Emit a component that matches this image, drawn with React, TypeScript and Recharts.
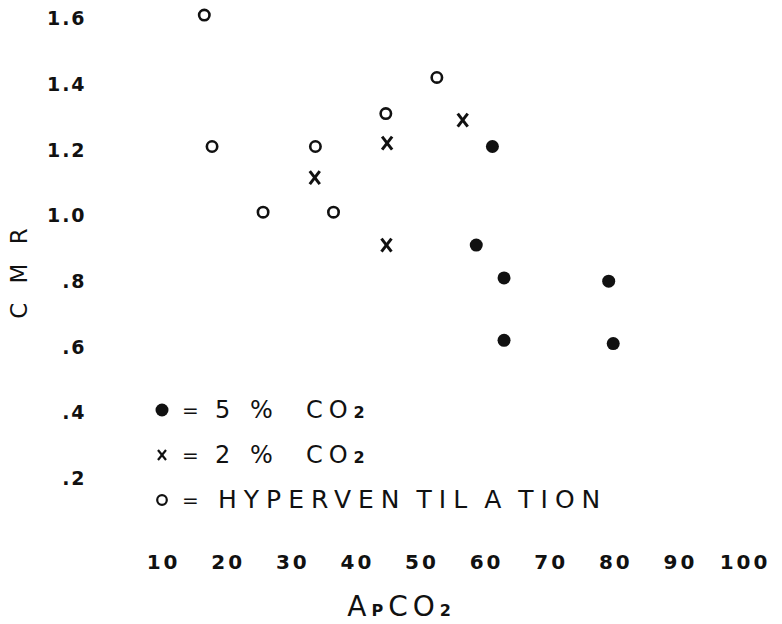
import React from 'react';
import { ScatterChart, Scatter, XAxis, YAxis, Label } from 'recharts';

// ---- data ----
const hyperX = [16.3, 17.5, 25.4, 33.5, 36.3, 44.4, 52.3];
const hyperY = [1.61, 1.21, 1.01, 1.21, 1.01, 1.31, 1.42];

const co2LowX = [33.4, 44.6, 44.5, 56.3];
const co2LowY = [1.115, 1.22, 0.91, 1.29];

const co2HighX = [60.9, 58.4, 62.7, 78.9, 62.7, 79.6];
const co2HighY = [1.21, 0.91, 0.81, 0.8, 0.62, 0.61];

const xTicks = [10, 20, 30, 40, 50, 60, 70, 80, 90, 100];
const yTicks = [0.2, 0.4, 0.6, 0.8, 1.0, 1.2, 1.4, 1.6];

// legend text; words split the way they are spaced in the lettering
const legendItems = [
  { key: 'high', parts: ['5 %  CO'], sub: '2' },
  { key: 'low', parts: ['2 %  CO'], sub: '2' },
  { key: 'hyper', parts: ['HYPERVEN', 'TIL', 'A', 'TION'], sub: '' },
];

const FONT = '"DejaVu Sans", Verdana, sans-serif';
const INK = '#111';

const toPoints = (xs: number[], ys: number[]) => xs.map((x, i) => ({ x, y: ys[i] }));
const hyperData = toPoints(hyperX, hyperY);
const lowData = toPoints(co2LowX, co2LowY);
const highData = toPoints(co2HighX, co2HighY);

const OpenCircle = (p: any) => (
  <circle cx={p.cx} cy={p.cy} r={5.2} fill="none" stroke={INK} strokeWidth={2.6} />
);
const FilledDot = (p: any) => <circle cx={p.cx} cy={p.cy} r={6.5} fill={INK} />;
const Cross = (p: any) => (
  <g stroke={INK} strokeWidth={3} strokeLinecap="butt">
    <line x1={p.cx - 5} y1={p.cy - 6.5} x2={p.cx + 5} y2={p.cy + 6.5} />
    <line x1={p.cx + 5} y1={p.cy - 6.5} x2={p.cx - 5} y2={p.cy + 6.5} />
  </g>
);

const yFmt = (v: number) => (v < 1 ? '.' + Math.round(v * 10) : v.toFixed(1));

const YTitle = (props: any) => {
  const vb = props.viewBox;
  const cx = vb.x + 19;
  const cy = vb.y + vb.height / 2 + 14;
  return (
    <text
      x={cx}
      y={cy}
      transform={`rotate(-90 ${cx} ${cy})`}
      textAnchor="middle"
      dominantBaseline="central"
      fontFamily={FONT}
      fontSize={23}
      letterSpacing={6}
      fill={INK}
    >
      C M R
    </text>
  );
};

const XTitle = (props: any) => {
  const vb = props.viewBox;
  const x = vb.x + vb.width / 2 - 107;
  const y = vb.y + 105;
  return (
    <text x={x} y={y} fontFamily={FONT} fill={INK} letterSpacing={5}>
      <tspan fontSize={28}>A</tspan>
      <tspan fontSize={16} fontWeight="bold">P</tspan>
      <tspan fontSize={28}>CO</tspan>
      <tspan fontSize={16} fontWeight="bold">2</tspan>
    </text>
  );
};

const LegendSymbol = ({ kind }: { kind: string }) => (
  <svg width={24} height={24} style={{ display: 'block' }}>
    {kind === 'high' && <circle cx={12} cy={12} r={6.5} fill={INK} />}
    {kind === 'low' && (
      <g stroke={INK} strokeWidth={2.2}>
        <line x1={8} y1={7} x2={16} y2={17} />
        <line x1={16} y1={7} x2={8} y2={17} />
      </g>
    )}
    {kind === 'hyper' && <circle cx={12} cy={12} r={4.8} fill="none" stroke={INK} strokeWidth={2.2} />}
  </svg>
);

const LegendBox = () => (
  <div style={{ position: 'absolute', left: 150, top: 387, fontFamily: FONT, color: INK }}>
    {legendItems.map((it) => (
      <div key={it.key} style={{ display: 'flex', alignItems: 'center', height: 45 }}>
        <LegendSymbol kind={it.key} />
        <span style={{ width: 33, marginLeft: 8, fontSize: 20 }}>=</span>
        <span
          style={{
            fontSize: it.key === 'hyper' ? 25 : 24,
            letterSpacing: it.key === 'hyper' ? 7 : 6,
            whiteSpace: 'pre',
            marginLeft: it.key === 'hyper' ? 3 : 0,
          }}
        >
          {it.parts.map((w, i) => (
            <span key={i} style={{ marginLeft: i === 0 ? 0 : 10 }}>
              {w}
            </span>
          ))}
          {it.sub && <span style={{ fontSize: 16, fontWeight: 'bold' }}>{it.sub}</span>}
        </span>
      </div>
    ))}
  </div>
);

export default function App() {
  return (
    <div style={{ position: 'absolute', left: 0, top: 0, width: 782, height: 624, background: '#fff' }}>
      <ScatterChart width={782} height={624} margin={{ top: 1.9, right: 37, bottom: 0, left: 0 }}>
        <XAxis
          type="number"
          dataKey="x"
          domain={[10, 100]}
          ticks={xTicks}
          interval={0}
          axisLine={false}
          tickLine={false}
          height={112.8}
          tickMargin={38}
          tick={{ fontSize: 20, fontWeight: 'bold', fill: INK, fontFamily: FONT, letterSpacing: 3 }}
        >
          <Label content={XTitle} />
        </XAxis>
        <YAxis
          type="number"
          dataKey="y"
          domain={[0.1, 1.65]}
          ticks={yTicks}
          interval={0}
          axisLine={false}
          tickLine={false}
          width={163.6}
          tickMargin={71}
          tickFormatter={yFmt}
          tick={{ fontSize: 19, fontWeight: 'bold', fill: INK, fontFamily: FONT, letterSpacing: 2 }}
        >
          <Label content={YTitle} />
        </YAxis>
        <Scatter name="HYPERVENTILATION" data={hyperData} shape={OpenCircle} isAnimationActive={false} />
        <Scatter name="2 % CO2" data={lowData} shape={Cross} isAnimationActive={false} />
        <Scatter name="5 % CO2" data={highData} shape={FilledDot} isAnimationActive={false} />
      </ScatterChart>
      <LegendBox />
    </div>
  );
}
